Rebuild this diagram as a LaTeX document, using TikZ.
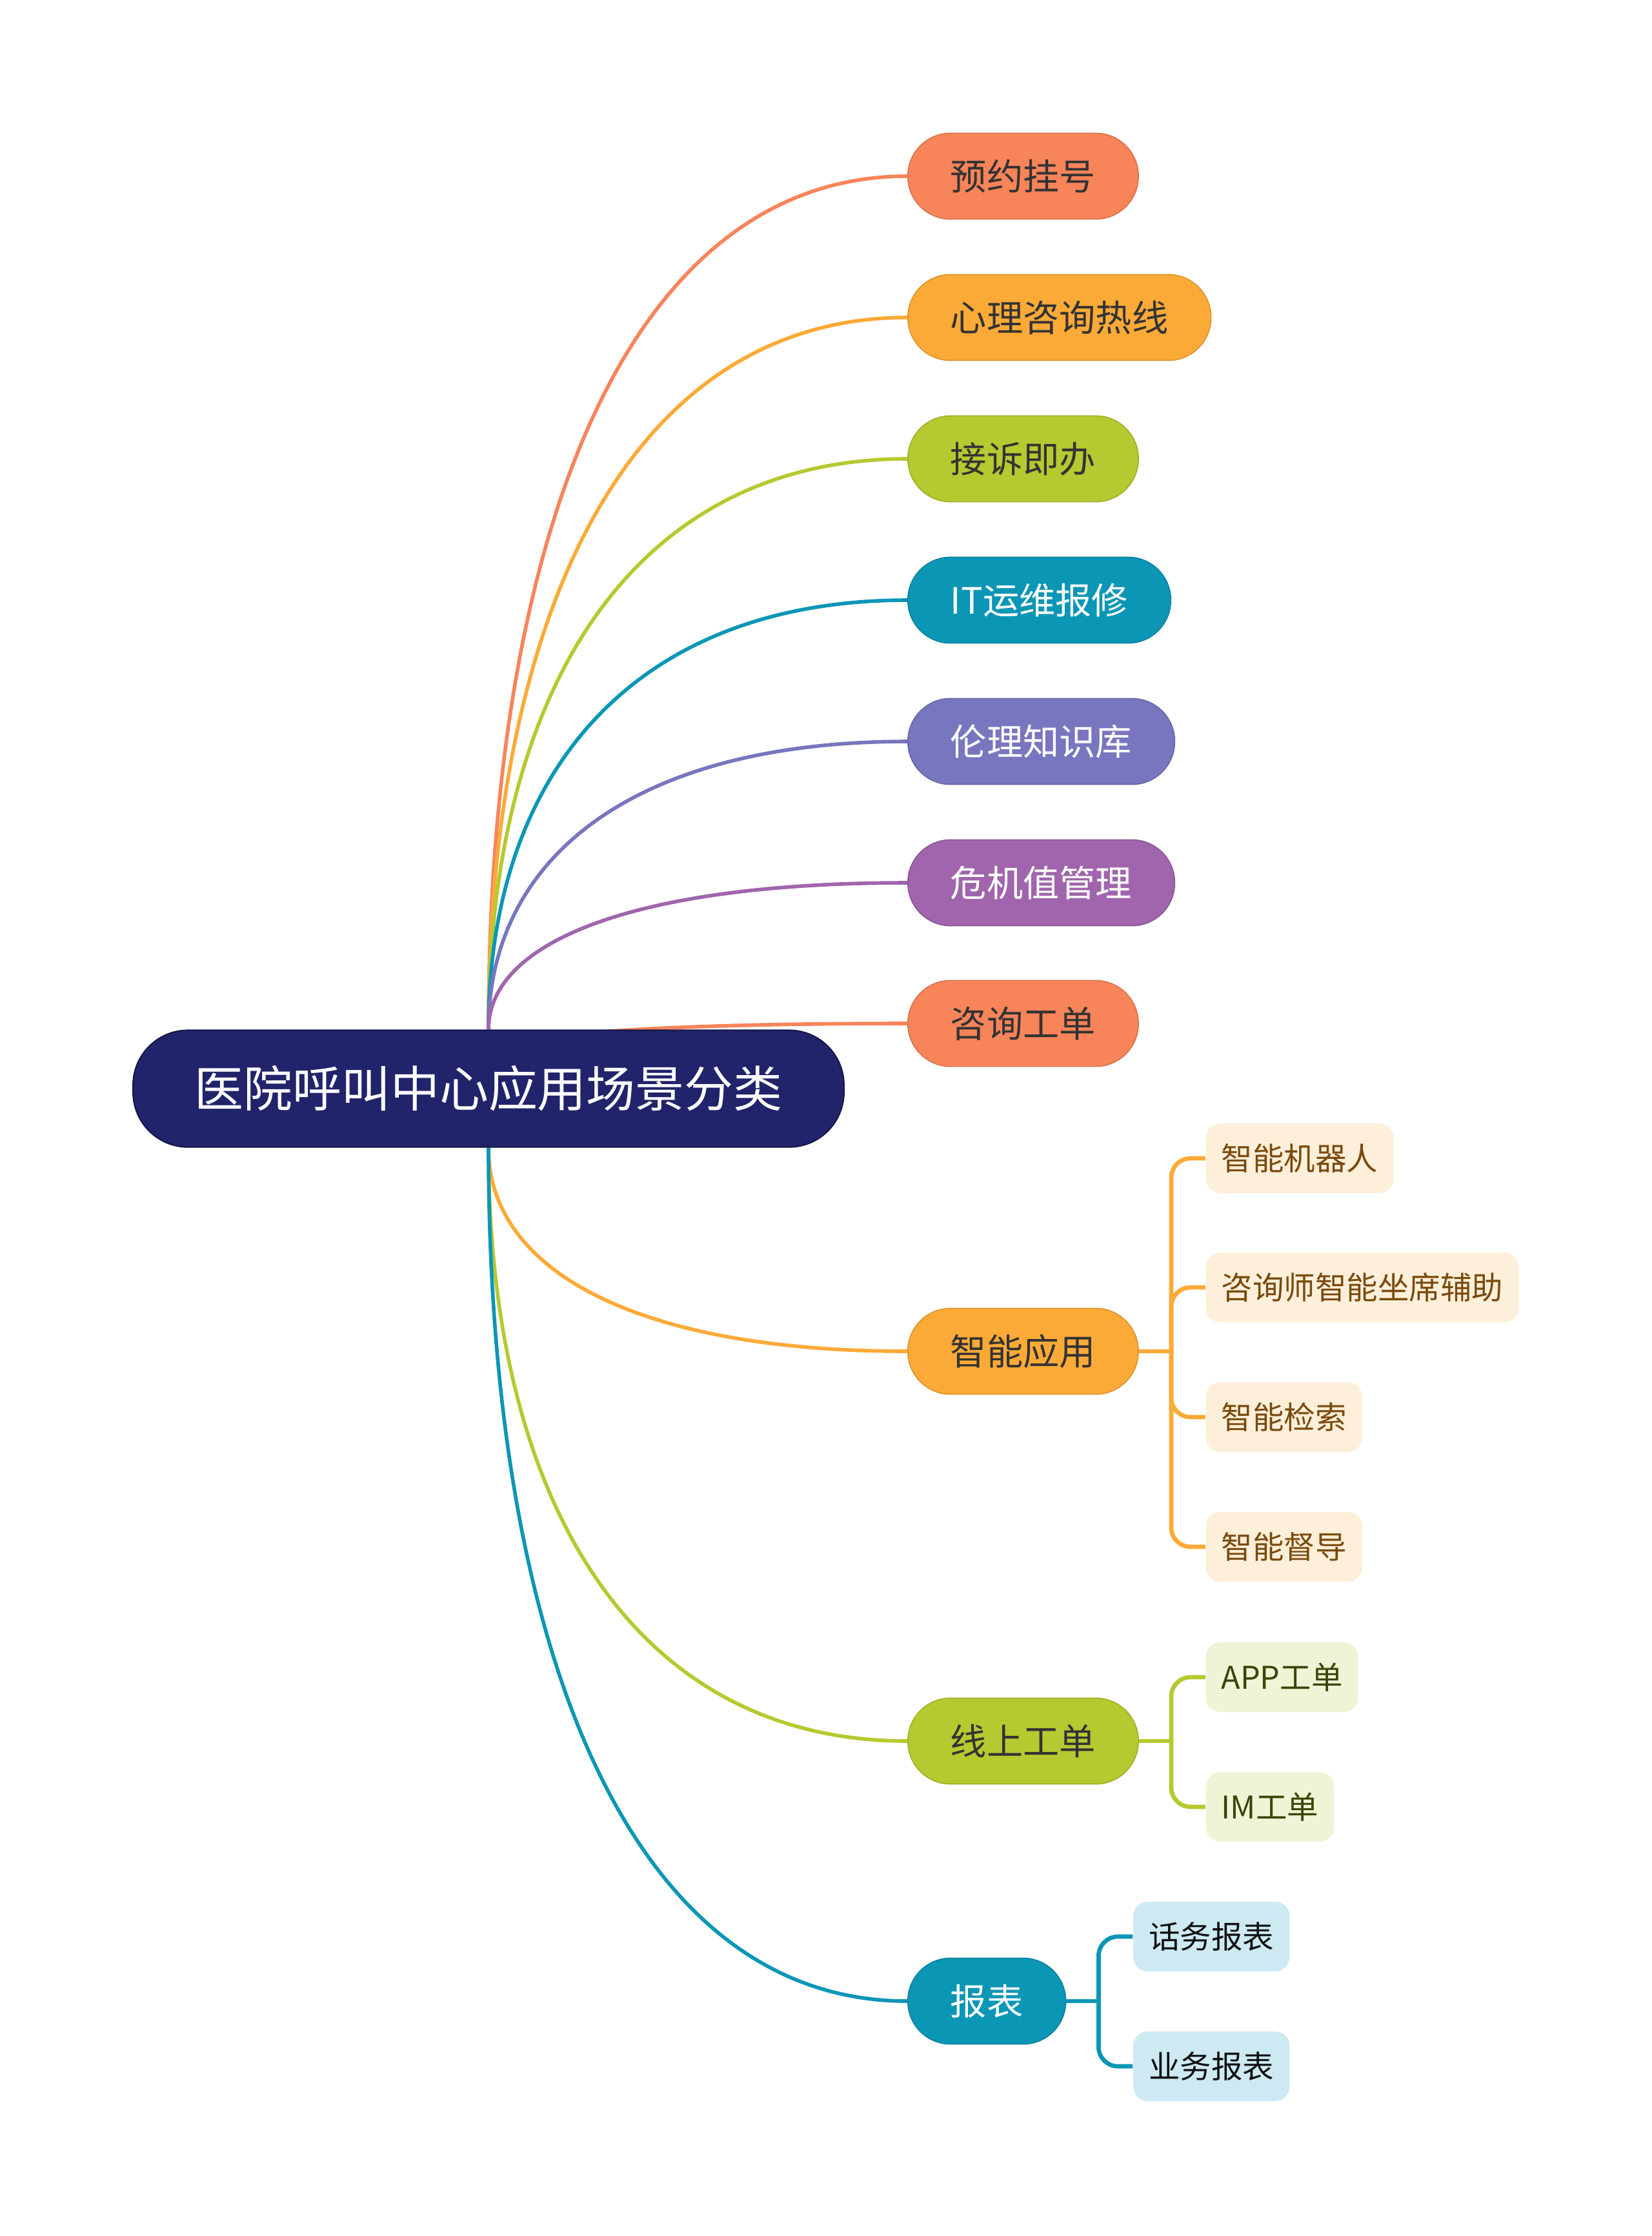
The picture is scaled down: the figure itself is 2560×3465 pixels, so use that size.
\documentclass[tikz,border=0pt]{standalone}
\usepackage{fontspec}
\usepackage{tikz}
\usetikzlibrary{backgrounds,calc}
\newfontfamily\cjk{Noto Sans CJK SC}

\definecolor{mmnavy}{HTML}{21246A}
\definecolor{mmnavyline}{HTML}{15174A}
\definecolor{mmcoral}{HTML}{F8845A}
\definecolor{mmamber}{HTML}{FCAA37}
\definecolor{mmlime}{HTML}{B6C930}
\definecolor{mmteal}{HTML}{0C96B6}
\definecolor{mmlavender}{HTML}{7776BF}
\definecolor{mmplum}{HTML}{A065AC}
\definecolor{mmdark}{HTML}{333333}
\definecolor{mmamberleaf}{HTML}{FDEFD9}
\definecolor{mmlimeleaf}{HTML}{F0F4D6}
\definecolor{mmtealleaf}{HTML}{CDEAF3}
\definecolor{mmambertext}{HTML}{7A4A0E}
\definecolor{mmlimetext}{HTML}{3A4608}
\definecolor{mmtealtext}{HTML}{111111}

\tikzset{
  hub/.style={fill=mmnavy, draw=mmnavyline, line width=0.6pt, text=white,
    rounded corners=0.85cm, minimum width=11.01cm, minimum height=1.81cm,
    inner sep=0pt, font=\cjk\fontsize{21.6}{21.6}\selectfont},
  topic/.style={anchor=west, rounded corners=0.66cm, minimum height=1.33cm,
    inner xsep=0.66cm, inner ysep=0pt, line width=0.5pt,
    font=\cjk\fontsize{16}{16}\selectfont},
  leaf/.style={anchor=west, rounded corners=0.22cm, minimum height=1.08cm,
    inner xsep=0.24cm, inner ysep=0pt, font=\cjk\fontsize{13.8}{13.8}\selectfont},
  branch/.style={line width=1.6pt},
  twig/.style={line width=1.9pt, rounded corners=0.3cm},
}

\begin{document}
\begin{tikzpicture}[x=0.01cm,y=-0.01cm]
  \useasboundingbox (0,0) rectangle (2560,3465);
  % central topic
  \node[hub] (hub) at (757,1687) {医院呼叫中心应用场景分类};
  % main topics, upper ones hang from the top edge, lower ones from the bottom edge
  \foreach \i/\txt/\col/\tc/\y in {
      1/预约挂号/mmcoral/mmdark/273,
      2/心理咨询热线/mmamber/mmdark/492,
      3/接诉即办/mmlime/mmdark/711,
      4/IT运维报修/mmteal/white/930,
      5/伦理知识库/mmlavender/white/1149,
      6/危机值管理/mmplum/white/1368,
      7/咨询工单/mmcoral/mmdark/1586,
      8/智能应用/mmamber/mmdark/2094,
      9/线上工单/mmlime/mmdark/2698,
      10/报表/mmteal/white/3101} {
    \node[topic, fill=\col, draw=\col!88!black, text=\tc] (t\i) at (1406,\y) {\txt};
    \begin{pgfonlayer}{background}
      \ifnum\i<7
        \coordinate (r\i) at (hub.north);
      \else\ifnum\i=7
        % this one dips behind the hub
        \coordinate (r\i) at ([yshift=-0.4cm]hub.north);
      \else
        \coordinate (r\i) at (hub.south);
      \fi\fi
      \draw[branch, color=\col] (r\i)
        .. controls ($(r\i)!0.6!(r\i |- t\i.west)$) and ($(r\i |- t\i.west)!0.35!(t\i.west)$)
        .. (t\i.west);
    \end{pgfonlayer}
  }
  % bracket joints
  \foreach \p/\col in {8/mmamber, 9/mmlime, 10/mmteal} {
    \coordinate (b\p) at ([xshift=0.5cm]t\p.east);
    \draw[twig, color=\col] (t\p.east) -- (b\p);
  }
  % sub topics
  \foreach \p/\j/\txt/\col/\fc/\tc/\y in {
      8/1/智能机器人/mmamber/mmamberleaf/mmambertext/1795,
      8/2/咨询师智能坐席辅助/mmamber/mmamberleaf/mmambertext/1995,
      8/3/智能检索/mmamber/mmamberleaf/mmambertext/2196,
      8/4/智能督导/mmamber/mmamberleaf/mmambertext/2397,
      9/1/APP工单/mmlime/mmlimeleaf/mmlimetext/2599,
      9/2/IM工单/mmlime/mmlimeleaf/mmlimetext/2800,
      10/1/话务报表/mmteal/mmtealleaf/mmtealtext/3001,
      10/2/业务报表/mmteal/mmtealleaf/mmtealtext/3202} {
    \node[leaf, fill=\fc, text=\tc] (s\p\j) at ([xshift=0.53cm]b\p |- 0,\y) {\txt};
    \draw[twig, color=\col] (b\p) |- (s\p\j.west);
  }
\end{tikzpicture}
\end{document}
